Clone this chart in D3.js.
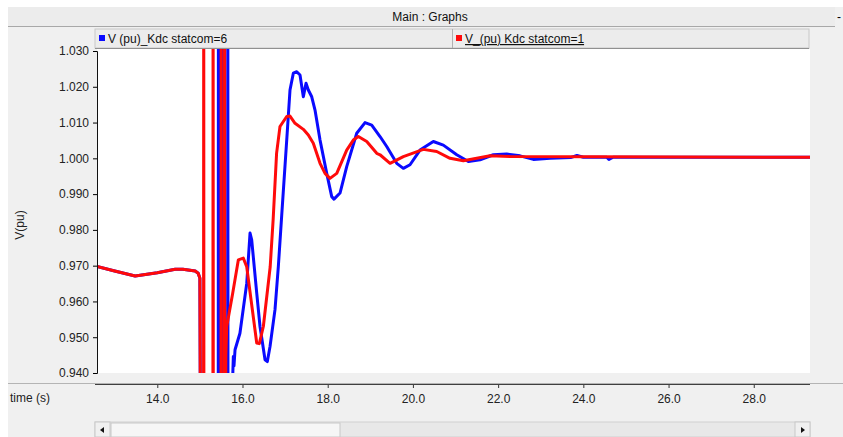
<!DOCTYPE html>
<html>
<head>
<meta charset="utf-8">
<script src="https://cdn.jsdelivr.net/npm/d3@7"></script>
<style>
  body { margin: 0; background: #fff; }
  svg { display: block; font-family: "Liberation Sans", Arial, sans-serif; }
</style>
</head>
<body>
<script>
// series: V(pu) for the two statcom gains (values beyond the axis are the clipped spikes)
const blueTimes = [12.585, 13.0, 13.48, 14.0, 14.42, 14.6, 14.89, 14.96, 15.0, 15.02,
  15.43, 15.435, 15.44, 15.525, 15.53, 15.535, 15.65, 15.655, 15.66, 15.76, 15.785, 15.80, 15.825,
  15.94, 16.10, 16.177, 16.216, 16.334, 16.411, 16.529, 16.583, 16.646, 16.763, 16.841, 16.92,
  17.038, 17.115, 17.193, 17.273, 17.35, 17.428, 17.491, 17.545, 17.625, 17.702, 17.82, 17.977,
  18.094, 18.148, 18.289, 18.446, 18.681, 18.876, 19.033, 19.228, 19.385, 19.62, 19.775, 19.932,
  20.167, 20.479, 20.714, 21.029, 21.301, 21.576, 21.888, 22.202, 22.515, 22.827, 23.219, 23.7,
  23.85, 24.0, 24.55, 24.6, 24.7, 29.32];
const blueValues = [0.9698, 0.9685, 0.9671, 0.9680, 0.9690, 0.9690, 0.9685, 0.9679, 0.9665, 0.90,
  0.90, 1.07, 0.90, 0.90, 1.07, 0.90, 0.90, 1.07, 0.90, 0.935, 0.9446, 0.9420, 0.9465,
  0.9511, 0.9651, 0.9791, 0.9772, 0.9623, 0.9530, 0.9437, 0.9432, 0.9474, 0.9577, 0.9697, 0.9840,
  1.0051, 1.0191, 1.0238, 1.0242, 1.0233, 1.0172, 1.0210, 1.0191, 1.0172, 1.0135, 1.0051, 0.9958,
  0.9893, 0.9886, 0.9903, 0.9977, 1.0070, 1.0100, 1.0093, 1.0061, 1.0033, 0.9986, 0.9972, 0.9982,
  1.0023, 1.0047, 1.0037, 1.0010, 0.9991, 0.9996, 1.0010, 1.0012, 1.0007, 0.9997, 1.0000, 1.0002,
  1.0008, 1.0003, 1.0003, 0.9997, 1.0003, 1.0003];

const redTimes = [12.585, 13.0, 13.48, 14.0, 14.42, 14.6, 14.89, 14.96, 15.0, 15.02,
  15.085, 15.09, 15.095, 15.305, 15.31, 15.315, 15.495, 15.50, 15.505, 15.575, 15.58, 15.585,
  15.61, 15.63, 15.77, 15.902, 16.019, 16.099, 16.334, 16.395, 16.489, 16.65, 16.72, 16.80, 16.88,
  17.038, 17.115, 17.233, 17.428, 17.545, 17.662, 17.82, 17.937, 18.054, 18.212, 18.446, 18.601,
  18.719, 18.916, 19.151, 19.228, 19.463, 19.775, 20.245, 20.559, 20.871, 21.184, 21.498, 21.81,
  22.28, 29.32];
const redValues = [0.9698, 0.9685, 0.9671, 0.9680, 0.9690, 0.9690, 0.9685, 0.9679, 0.9665, 0.90,
  0.90, 1.07, 0.90, 0.90, 1.07, 0.90, 0.90, 1.07, 0.90, 0.90, 1.07, 0.90,
  0.945, 0.9530, 0.9623, 0.9716, 0.9721, 0.9697, 0.9484, 0.9482, 0.9530, 0.9697, 0.9830, 1.0014, 1.0089,
  1.0117, 1.0118, 1.0098, 1.0081, 1.0065, 1.0042, 0.9986, 0.9958, 0.9944, 0.9958, 1.0023, 1.0051,
  1.0061, 1.0047, 1.0014, 1.0010, 0.9986, 1.0005, 1.0025, 1.0019, 1.0000, 0.9993, 1.0000, 1.0007,
  1.0005, 1.0003];

const seriesLabels = ["V (pu)_Kdc statcom=6", "V_(pu) Kdc statcom=1"];
const seriesColors = ["#0a0aff", "#ff0a0a"];
const yTicks = [0.940, 0.950, 0.960, 0.970, 0.980, 0.990, 1.000, 1.010, 1.020, 1.030];
const xTicks = [14, 16, 18, 20, 22, 24, 26, 28];

const W = 843, H = 437;
const plot = {left: 97, right: 810, top: 49, bottom: 373};

const svg = d3.select("body").append("svg")
    .attr("width", W)
    .attr("height", H);

// window background
svg.append("rect").attr("width", W).attr("height", H).attr("fill", "#fff");
svg.append("rect")
    .attr("x", 8).attr("y", 7).attr("width", W - 8).attr("height", H - 7)
    .attr("fill", "#f0f0f0");

// title bar
svg.append("rect")
    .attr("x", 8).attr("y", 7).attr("width", W - 16).attr("height", 19)
    .attr("fill", "#ececec");
svg.append("line")
    .attr("x1", 8).attr("x2", W - 8).attr("y1", 26.5).attr("y2", 26.5)
    .attr("stroke", "#a8a8a8");
svg.append("text")
    .attr("x", 430).attr("y", 21)
    .attr("text-anchor", "middle")
    .attr("font-size", 12)
    .attr("fill", "#111")
    .text("Main : Graphs");
svg.append("text")
    .attr("x", 837).attr("y", 21)
    .attr("font-size", 12)
    .text("-");

const x = d3.scaleLinear().domain([12.585, 29.32]).range([plot.left, plot.right]);
const y = d3.scaleLinear().domain([0.940, 1.030]).range([plot.bottom, 51]);

// plot area
svg.append("rect")
    .attr("x", plot.left).attr("y", plot.top)
    .attr("width", plot.right - plot.left).attr("height", plot.bottom - plot.top)
    .attr("fill", "#fff");

svg.append("clipPath").attr("id", "clip")
  .append("rect")
    .attr("x", plot.left).attr("y", plot.top)
    .attr("width", plot.right - plot.left).attr("height", plot.bottom - plot.top);

const line = d3.line()
    .x(d => x(d[0]))
    .y(d => y(d[1]));

const series = [
  d3.zip(blueTimes, blueValues),
  d3.zip(redTimes, redValues)
];

svg.append("g")
    .attr("clip-path", "url(#clip)")
  .selectAll("path")
  .data(series)
  .join("path")
    .attr("fill", "none")
    .attr("stroke", (d, i) => seriesColors[i])
    .attr("stroke-width", 3)
    .attr("stroke-linejoin", "round")
    .attr("d", line);

// y axis
const yAxis = svg.append("g")
    .attr("transform", `translate(${plot.left},0)`)
    .call(d3.axisLeft(y).tickValues(yTicks).tickFormat(d3.format(".3f")).tickSize(4).tickPadding(4));
yAxis.select(".domain").attr("stroke", "#111");
yAxis.selectAll("text").attr("font-size", 12).attr("fill", "#222").attr("font-family", null);
yAxis.attr("font-family", null);

svg.append("text")
    .attr("transform", "translate(24,225) rotate(-90)")
    .attr("text-anchor", "middle")
    .attr("font-size", 12)
    .attr("fill", "#222")
    .text("V(pu)");

// legend
const legend = svg.append("g");
legend.append("rect")
    .attr("x", 95).attr("y", 29).attr("width", 714).attr("height", 19)
    .attr("fill", "#ececec").attr("stroke", "#c8c8c8");
legend.append("line")
    .attr("x1", 95).attr("x2", 809).attr("y1", 48.5).attr("y2", 48.5)
    .attr("stroke", "#909090");
legend.append("line")
    .attr("x1", 452.5).attr("x2", 452.5).attr("y1", 29).attr("y2", 48)
    .attr("stroke", "#b0b0b0");
const legendX = [99, 456];
seriesLabels.forEach((label, i) => {
  legend.append("rect")
      .attr("x", legendX[i]).attr("y", 35).attr("width", 6).attr("height", 6)
      .attr("fill", seriesColors[i]);
  legend.append("text")
      .attr("x", legendX[i] + 9).attr("y", 43)
      .attr("font-size", 12)
      .attr("fill", "#111")
      .attr("text-decoration", i === 1 ? "underline" : null)
      .text(label);
});

// x axis
svg.append("line")
    .attr("x1", 8).attr("x2", W).attr("y1", 383.5).attr("y2", 383.5)
    .attr("stroke", "#b4b4b4");
svg.append("line")
    .attr("x1", plot.left - 2).attr("x2", plot.right).attr("y1", 384.5).attr("y2", 384.5)
    .attr("stroke", "#404040");
const xAxis = svg.append("g")
    .attr("transform", "translate(0,385)")
    .call(d3.axisBottom(x).tickValues(xTicks).tickFormat(d3.format(".1f")).tickSize(3).tickPadding(6));
xAxis.select(".domain").remove();
xAxis.attr("font-family", null);
xAxis.selectAll("line").attr("stroke", "#333");
xAxis.selectAll("text").attr("font-size", 12).attr("fill", "#222");

svg.append("text")
    .attr("x", 10).attr("y", 402)
    .attr("font-size", 12)
    .attr("fill", "#222")
    .text("time (s)");

// scrollbar
const sb = svg.append("g");
sb.append("rect")
    .attr("x", 95).attr("y", 422).attr("width", 715).attr("height", 15)
    .attr("fill", "#e8e8e8").attr("stroke", "#d0d0d0");
sb.append("rect")
    .attr("x", 111).attr("y", 423).attr("width", 229).attr("height", 14)
    .attr("fill", "#f6f6f6").attr("stroke", "#c8c8c8");
sb.append("rect")
    .attr("x", 95).attr("y", 422).attr("width", 15).attr("height", 15)
    .attr("fill", "#f0f0f0").attr("stroke", "#c8c8c8");
sb.append("rect")
    .attr("x", 795).attr("y", 422).attr("width", 15).attr("height", 15)
    .attr("fill", "#f0f0f0").attr("stroke", "#c8c8c8");
sb.append("path").attr("d", "M100,430 L104,427 L104,433 Z").attr("fill", "#111");
sb.append("path").attr("d", "M805,430 L801,427 L801,433 Z").attr("fill", "#111");
</script>
</body>
</html>
